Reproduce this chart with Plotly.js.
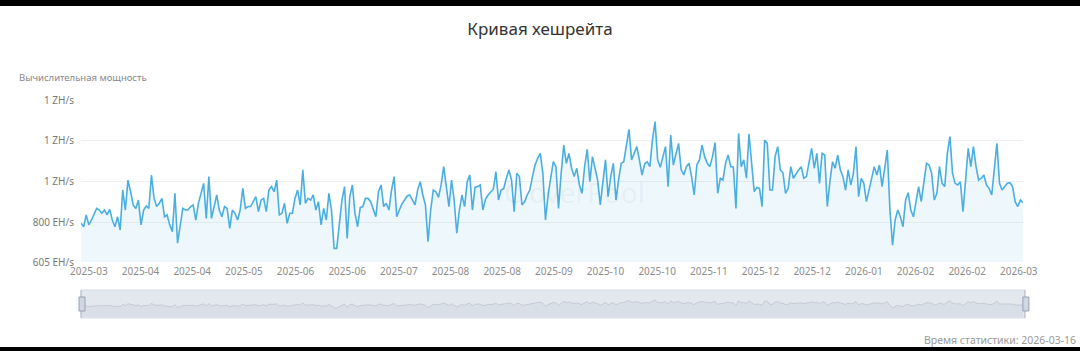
<!DOCTYPE html>
<html><head><meta charset="utf-8">
<script src="https://cdn.plot.ly/plotly-3.0.1.min.js"></script>
<style>
html,body{margin:0;padding:0;background:#fff;width:1080px;height:351px;overflow:hidden}
#topbar{height:6px;background:#000}
#chart{width:1080px;height:341px}
#botbar{height:4px;background:#000}
</style></head><body>
<div id="topbar"></div><div id="chart"></div><div id="botbar"></div>
<script>
const chartTitle = "Кривая хешрейта";
const yAxisName = "Вычислительная мощность";
const statTime = "Время статистики: 2026-03-16";
const watermark = "CloverPool";
const startDate = "2025-03-19";

// daily hashrate, EH/s
const hashrateEH = [
 795,778,836,787,811,844,868,860,844,860,836,863,811,778,827,762,958,860,1007,950,
 885,868,909,787,860,880,868,1032,917,877,893,917,827,836,787,754,942,697,795,868,
 860,860,877,885,811,893,942,991,819,1024,819,877,934,860,827,877,868,770,860,844,
 811,860,966,868,877,877,901,926,852,909,917,852,958,975,950,1007,836,844,893,795,
 844,844,917,958,885,1057,893,917,909,934,860,901,787,868,811,942,860,672,672,795,
 909,975,721,926,983,844,778,872,877,917,917,901,860,827,950,983,877,893,860,958,
 1024,827,860,890,909,929,934,913,885,958,999,934,885,705,860,958,950,922,983,1073,
 966,877,1007,909,746,860,934,877,999,1032,860,971,975,983,860,913,934,950,962,1048,
 909,958,966,1016,1057,1007,852,1040,1024,885,901,934,958,1024,1081,1114,1138,1040,811,934,
 1024,1097,1073,868,1040,1179,1089,1138,1065,1024,1065,983,942,1073,1158,999,1122,1057,1007,885,
 1007,1106,926,1024,1089,909,1007,1089,1097,1187,1256,1106,1135,1171,1106,1032,1086,1097,1073,1204,
 1294,1106,1070,1122,1171,975,1228,1081,1138,1187,1057,1032,1073,1089,1024,934,1081,1106,1179,1122,
 1089,1073,1122,1191,942,1016,1007,1089,1130,1073,1070,868,1236,1073,1106,1016,1233,1073,950,971,
 966,877,1204,1187,958,958,1122,1171,1057,1043,942,966,1073,1016,1040,1057,1073,1016,1024,1089,
 1163,1065,1138,991,1138,1130,877,999,1097,1065,1130,1057,1024,958,1057,983,1040,1171,926,1016,
 991,901,958,1016,1073,1032,1081,975,1073,1155,860,688,811,860,827,778,909,945,860,827,
 901,975,901,991,1089,1081,1040,909,942,1073,991,975,1138,1220,1040,991,983,999,852,1007,
 1163,1073,1171,1073,1007,1016,1032,983,966,934,1065,1187,991,958,975,991,994,975,901,877,909,896
];

const yTickVals = [605, 800, 1000, 1200, 1400];
const yTickText = ["605 EH/s", "800 EH/s", "1 ZH/s", "1 ZH/s", "1 ZH/s"];
const xTickLabels = ["2025-03","2025-04","2025-04","2025-05","2025-06","2025-06","2025-07","2025-08","2025-08",
  "2025-09","2025-10","2025-10","2025-11","2025-12","2025-12","2026-01","2026-02","2026-02","2026-03"];
const xTickStart = "2025-03-22";
const xTickStepDays = 19.8;

const DAY = 86400000;
const t0 = Date.parse(startDate + "T00:00:00Z");
const dates = hashrateEH.map((_, i) => new Date(t0 + i * DAY).toISOString().slice(0, 10));
const tt0 = Date.parse(xTickStart + "T00:00:00Z");
const xTickVals = xTickLabels.map((_, k) => new Date(tt0 + k * xTickStepDays * DAY).toISOString().replace("T", " ").slice(0, 19));

const FONT = "Noto Sans, Open Sans, sans-serif";
const xRange = [dates[0], dates[dates.length - 1]];

const traces = [
  {
    x: dates, y: hashrateEH, xaxis: "x", yaxis: "y",
    type: "scatter", mode: "lines",
    line: {color: "#4aafe0", width: 1.6},
    fill: "tozeroy", fillcolor: "rgba(74,175,224,0.10)",
    hoverinfo: "skip", showlegend: false
  },
  {
    x: dates, y: hashrateEH, xaxis: "x2", yaxis: "y2",
    type: "scatter", mode: "lines",
    line: {color: "rgba(150,160,178,0.45)", width: 0.8},
    fill: "tozeroy", fillcolor: "rgba(170,180,196,0.16)",
    hoverinfo: "skip", showlegend: false
  }
];

const layout = {
  width: 1080, height: 341,
  margin: {l: 81, r: 57, t: 94, b: 29, pad: 0},
  paper_bgcolor: "#ffffff", plot_bgcolor: "#ffffff",
  font: {family: FONT, color: "#777"},
  title: {text: chartTitle, x: 0.5, xref: "container", xanchor: "center",
          y: 1 - 23 / 341, yref: "container", yanchor: "middle",
          font: {family: FONT, size: 17, color: "#333"}},
  xaxis: {
    domain: [0, 1], anchor: "y", type: "date", range: xRange,
    tickmode: "array", tickvals: xTickVals, ticktext: xTickLabels,
    tickfont: {family: FONT, size: 10, color: "#8c8c8c"},
    showgrid: false, zeroline: false, showline: false, ticks: "",
    ticklabelstandoff: 2, fixedrange: true
  },
  yaxis: {
    domain: [56 / 218, 1], anchor: "x", range: [605, 1400],
    tickmode: "array", tickvals: yTickVals, ticktext: yTickText,
    tickfont: {family: FONT, size: 10, color: "#7a7a7a"},
    gridcolor: "#f0f0f0", gridwidth: 1, zeroline: false, showline: false,
    ticks: "", ticklabelstandoff: 6, fixedrange: true
  },
  xaxis2: {domain: [0, 1], anchor: "y2", type: "date", range: xRange, visible: false, fixedrange: true},
  yaxis2: {domain: [0, 28 / 218], anchor: "x2", range: [-106, 2071], visible: false, fixedrange: true},
  shapes: [
    {type: "rect", layer: "below", xref: "paper", yref: "y2 domain",
     x0: 0, x1: 1.002, y0: 0, y1: 1, fillcolor: "#e3e7ee", line: {color: "#d6dbe3", width: 1}},
    {type: "line", xref: "paper", yref: "y2 domain", x0: 0, x1: 0, y0: 0, y1: 1,
     line: {color: "#b0bac8", width: 1}},
    {type: "line", xref: "paper", yref: "y2 domain", x0: 1.002, x1: 1.002, y0: 0, y1: 1,
     line: {color: "#b0bac8", width: 1}},
    {type: "rect", xref: "paper", yref: "y2 domain", xsizemode: "pixel", ysizemode: "pixel",
     xanchor: 0, x0: -2, x1: 4, yanchor: 0.5, y0: -7, y1: 7,
     fillcolor: "#d0d7e1", line: {color: "#94a1b5", width: 1}},
    {type: "rect", xref: "paper", yref: "y2 domain", xsizemode: "pixel", ysizemode: "pixel",
     xanchor: 1.002, x0: -2, x1: 4, yanchor: 0.5, y0: -7, y1: 7,
     fillcolor: "#d0d7e1", line: {color: "#94a1b5", width: 1}}
  ],
  annotations: [
    {text: yAxisName, xref: "paper", yref: "paper", x: -64 / 942, y: 1 + 23 / 218,
     xanchor: "left", yanchor: "middle", showarrow: false,
     font: {family: FONT, size: 9.5, color: "#888"}},
    {text: statTime, xref: "paper", yref: "paper", x: 1 + 55 / 942, y: -22 / 218,
     xanchor: "right", yanchor: "middle", showarrow: false,
     font: {family: FONT, size: 10.5, color: "#999"}},
    {text: watermark, xref: "paper", yref: "paper", x: 0.524, y: (312 - 186) / 218,
     xanchor: "center", yanchor: "middle", showarrow: false,
     font: {family: FONT, size: 28, color: "rgba(0,0,0,0.055)"}}
  ]
};

Plotly.newPlot("chart", traces, layout, {displayModeBar: false, staticPlot: true});
</script>
</body></html>
